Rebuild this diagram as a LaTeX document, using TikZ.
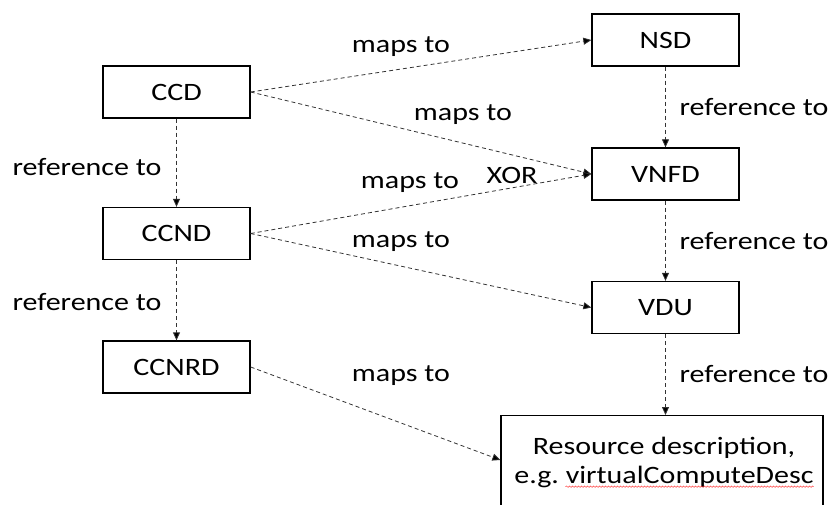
\documentclass[tikz,border=0pt]{standalone}
\usepackage{fontspec}
\setmainfont{Carlito}[FakeStretch=1.2]
\usetikzlibrary{arrows.meta,decorations.pathmorphing}
\begin{document}
\begin{tikzpicture}[x=1pt,y=-1pt,
  font=\fontsize{25}{29}\selectfont,
  box/.style={draw, line width=1.3pt, minimum width=147pt, minimum height=52pt, inner sep=0pt},
  link/.style={draw=black!80, line width=0.8pt, dash pattern=on 4pt off 3pt,
    -{Triangle[length=8pt,width=7pt,fill=black]}},
  lbl/.style={inner sep=0pt}]
\useasboundingbox (0,0) rectangle (833,505);
\clip (0,0) rectangle (833,505);
% boxes
\node[box] (ccd) at (176.5,92) {CCD};
\node[box] (ccnd) at (176.5,233.5) {CCND};
\node[box] (ccnrd) at (176.5,367) {CCNRD};
\node[box] (nsd) at (665.5,40) {NSD};
\node[box] (vnfd) at (665.5,174) {VNFD};
\node[box] (vdu) at (665.5,307.5) {VDU};
\node[box, minimum width=322pt, minimum height=130pt, anchor=north] (res) at (662,415) {};
\node[lbl] (resA) at (664,448) {Resource description,};
\node[lbl, anchor=base] (resB) at ([yshift=-29pt]resA.base) {e.g.\ virtualComputeDesc};
\node[lbl, anchor=base east] (resW) at (resB.base east) {\phantom{virtualComputeDesc}};
\draw[red!80, line width=0.5pt, decorate, decoration={snake, amplitude=0.7pt, segment length=3pt}]
  ([yshift=-3pt]resW.base west) -- ([yshift=-3pt]resW.base east);
% connectors
\draw[link] (ccd.east) -- (nsd.west);
\draw[link] (ccd.east) -- (vnfd.west);
\draw[link] (ccnd.east) -- (vnfd.west);
\draw[link] (ccnd.east) -- (vdu.west);
\draw[link] (ccnrd.east) -- ([yshift=-45pt]res.north west);
\draw[link] (ccd.south) -- (ccnd.north);
\draw[link] (ccnd.south) -- (ccnrd.north);
\draw[link] (nsd.south) -- (vnfd.north);
\draw[link] (vnfd.south) -- (vdu.north);
\draw[link] (vdu.south) -- (vdu.south |- res.north);
% labels
\node[lbl] (m1) at (401,47) {maps to};
\node[lbl] (m2) at (463,115) {maps to};
\node[lbl] (m3) at (410,183) {maps to};
\node[lbl] (xor) at (512,175) {XOR};
\node[lbl] (m4) at (401,242) {maps to};
\node[lbl] (m5) at (401,376) {maps to};
\node[lbl] (r1) at (87,167) {reference to};
\node[lbl] (r2) at (87,302) {reference to};
\node[lbl] (r3) at (754,107) {reference to};
\node[lbl] (r4) at (754,241) {reference to};
\node[lbl] (r5) at (754,374) {reference to};
\end{tikzpicture}
\end{document}
